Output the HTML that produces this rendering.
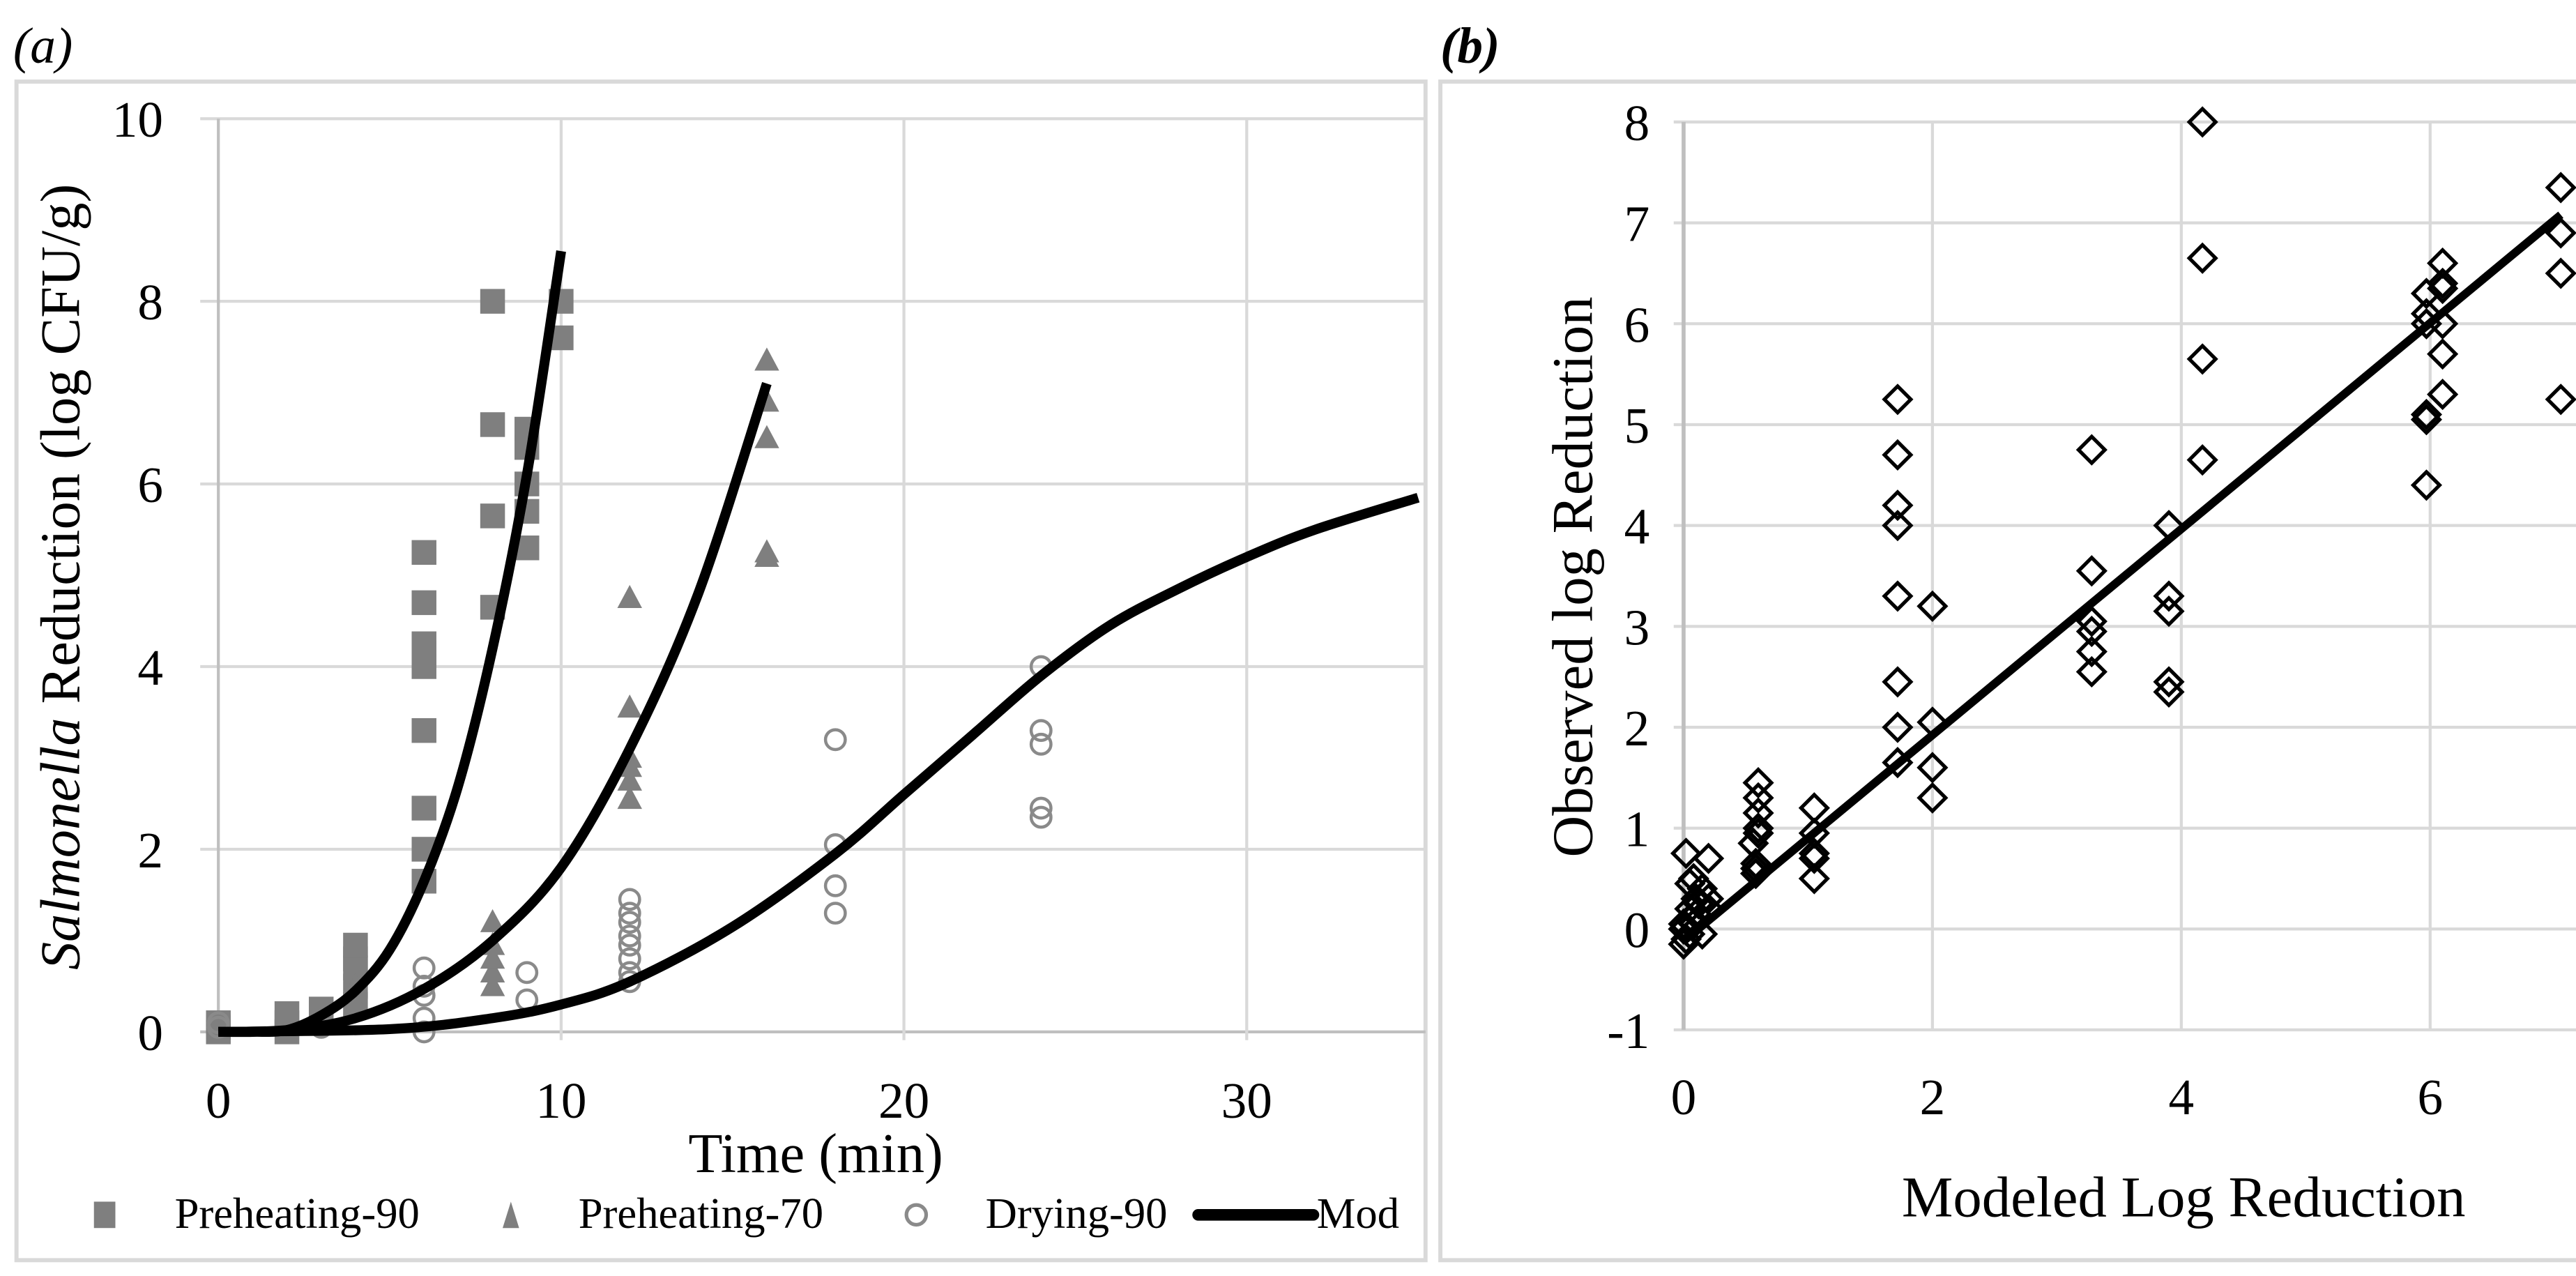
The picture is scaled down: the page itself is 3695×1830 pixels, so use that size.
<!DOCTYPE html>
<html><head><meta charset="utf-8"><style>
html,body{margin:0;padding:0;background:#fff;}
svg{display:block;font-family:"Liberation Serif","DejaVu Serif",serif;}
</style></head><body>
<svg id="fig" width="3695" height="1830" viewBox="0 0 1563.1 774.1" preserveAspectRatio="none" xmlns="http://www.w3.org/2000/svg">
<rect x="0" y="0" width="1563.1" height="774.1" fill="#fff"/>
<text x="8" y="38" font-size="31" font-style="italic">(a)</text>
<rect x="10" y="49.5" width="855" height="715" fill="none" stroke="#d9d9d9" stroke-width="2.5"/>
<text x="874" y="38" font-size="31" font-style="italic" font-weight="bold">(b)</text>
<rect x="874" y="49.5" width="700" height="715" fill="none" stroke="#d9d9d9" stroke-width="2.5"/>
<g id="pa"></g>
<g id="pb"></g>
</svg>
<script>
// ---------- Panel (a) data ----------
const p90T=[0,0,0,2,2,2,3,3,4,4,4,4,4,6,6,6,6,6,6,6,6,6,8,8,8,8,9,9,9,9,9,10,10];
const p90Y=[0,0.05,0.1,0,0.1,0.2,0.2,0.25,0.3,0.5,0.7,0.8,0.95,1.65,2.0,2.45,3.3,4.0,4.15,4.25,4.7,5.25,4.65,5.65,6.65,8.0,5.3,5.7,6.0,6.4,6.6,7.6,8.0];
const p70T=[0,0,4,4,8,8,8,8,8,12,12,12,12,12,12,16,16,16,16,16];
const p70Y=[0,0.05,0.3,0.5,0.5,0.65,0.8,0.95,1.2,2.55,2.75,2.9,3.0,3.55,4.75,5.2,5.25,6.5,6.9,7.35];
const d90T=[0,0,3,6,6,6,6,6,9,9,12,12,12,12,12,12,12,12,18,18,18,18,24,24,24,24,24];
const d90Y=[0.05,0.1,0.05,0,0.15,0.4,0.5,0.7,0.35,0.65,0.55,0.65,0.8,0.95,1.05,1.2,1.3,1.45,1.3,1.6,2.05,3.2,2.35,2.45,3.15,3.3,4.0];
const mod1T=[0,1,2,3,4,5,6,7,8,9,10];
const mod1Y=[0,0,0.02,0.18,0.45,0.9,1.65,2.7,4.2,6.1,8.55];
const mod2T=[0,2,4,6,8,10,12,14,16];
const mod2Y=[0,0.02,0.15,0.47,1.0,1.8,3.1,4.8,7.1];
const mod3T=[0,5,8,10,12,15,18,20,22,24,26,28,30,32,35];
const mod3Y=[0,0.03,0.15,0.3,0.55,1.15,1.95,2.6,3.25,3.9,4.45,4.85,5.2,5.5,5.85];
const aXTicks=[0,10,20,30];
const aYTicks=[0,2,4,6,8,10];
// ---------- Panel (b) data ----------
const bX=[0,0,0.02,0.05,0.05,0.1,0.05,0.08,0.02,0.15,0.2,0.2,0.15,0.1,0.2,0,0.05,0.12,0.08,
0.58,0.58,0.58,0.56,0.6,0.6,0.6,0.6,0.6,
1.05,1.05,1.05,1.05,1.05,
1.72,1.72,1.72,1.72,1.72,1.72,1.72,1.72,
2.0,2.0,2.0,2.0,
3.28,3.28,3.28,3.28,3.28,3.28,
3.9,3.9,3.9,3.9,3.9,
4.17,4.17,4.17,4.17,
5.97,5.97,5.97,5.97,5.97,5.97,
6.1,6.1,6.1,6.1,6.1,6.1,
7.05,7.05,7.05,7.05];
const bY=[0,0.05,-0.1,0.1,0.2,0.3,0.45,0.5,0.75,0.4,0.7,0.2,-0.05,0.15,0.3,-0.15,-0.05,0.25,0.05,
0.55,0.6,0.65,0.85,0.95,1.0,1.15,1.3,1.45,
0.5,0.7,0.75,0.95,1.2,
1.65,2.0,2.45,3.3,4.0,4.2,4.7,5.25,
1.3,1.6,2.05,3.2,
2.55,2.75,2.95,3.05,3.55,4.75,
2.35,2.45,3.15,3.3,4.0,
4.65,5.65,6.65,8.0,
4.4,5.05,5.1,6.0,6.1,6.3,
5.3,5.7,6.0,6.35,6.4,6.6,
5.25,6.5,6.9,7.35];
const fitX=[0,7.05];
const fitY=[-0.12,7.08];
const bXTicks=[0,2,4,6];
const bYTicks=[-1,0,1,2,3,4,5,6,7,8];

const NS="http://www.w3.org/2000/svg";
function mk(parent,tag,attrs){const e=document.createElementNS(NS,tag);for(const k in attrs)e.setAttribute(k,attrs[k]);parent.appendChild(e);return e;}

// ----- Panel a -----
const pa=document.getElementById('pa');
const ax=v=>132.5+v*20.8, ay=v=>626-v*55.4;
const AX0=132.5, AX1=865;
aYTicks.forEach(v=>{
  const g=mk(pa,'line',{x1:AX0-11,x2:AX1,y1:ay(v),y2:ay(v),stroke:v===0?'#bfbfbf':'#d9d9d9','stroke-width':1.8});
  
  
  const t=mk(pa,'text',{x:99,y:ay(v)+11,'font-size':31,'text-anchor':'end'});
  t.textContent=v;
  
  
});
aXTicks.forEach(v=>{
  const g=mk(pa,'line',{x1:ax(v),x2:ax(v),y1:ay(10),y2:ay(0)+5,stroke:v===0?'#bfbfbf':'#d9d9d9','stroke-width':1.8});
  
  
  const t=mk(pa,'text',{x:ax(v),y:678,'font-size':31,'text-anchor':'middle'});
  t.textContent=v;
  
  
});
{const t=mk(pa,'text',{x:495,y:711,'font-size':34,'text-anchor':'middle'});t.textContent='Time (min)';

}
{const t=mk(pa,'text',{transform:'translate(48,350) rotate(-90)','font-size':34,'text-anchor':'middle'});
t.innerHTML='<tspan font-style="italic">Salmonella</tspan> Reduction (log CFU/g)';

}
// points
p90T.forEach((t,i)=>{const r=mk(pa,'rect',{x:ax(t)-7.5,y:ay(p90Y[i])-7.5,width:15,height:15,fill:'#7f7f7f'});

});
p70T.forEach((t,i)=>{const x=ax(t),y=ay(p70Y[i]);const r=mk(pa,'polygon',{points:`${x},${y-8} ${x-7.5},${y+6} ${x+7.5},${y+6}`,fill:'#7f7f7f'});

});
d90T.forEach((t,i)=>{const r=mk(pa,'circle',{cx:ax(t),cy:ay(d90Y[i]),r:6,fill:'none',stroke:'#8a8a8a','stroke-width':1.9});

});
function curve(T,Y,name){
  const pts=T.map((t,i)=>[ax(t),ay(Y[i])]);
  let d='M'+pts[0][0]+','+pts[0][1];
  for(let i=0;i<pts.length-1;i++){
    const p0=pts[Math.max(0,i-1)],p1=pts[i],p2=pts[i+1],p3=pts[Math.min(pts.length-1,i+2)];
    const c1=[p1[0]+(p2[0]-p0[0])/6,p1[1]+(p2[1]-p0[1])/6],c2=[p2[0]-(p3[0]-p1[0])/6,p2[1]-(p3[1]-p1[1])/6];
    d+=` C${c1[0]},${c1[1]} ${c2[0]},${c2[1]} ${p2[0]},${p2[1]}`;
  }
  const p=mk(pa,'path',{d:d,fill:'none',stroke:'#000','stroke-width':6});
  
  
}
curve(mod1T,mod1Y,'model-curve-preheating-90');
curve(mod2T,mod2Y,'model-curve-preheating-70');
curve(mod3T,mod3Y,'model-curve-drying-90');
// legend
{const L=mk(pa,'g',{});
mk(L,'rect',{x:57,y:729,width:13,height:16,fill:'#7f7f7f'});
let t=mk(L,'text',{x:106,y:745,'font-size':26.5});t.textContent='Preheating-90';
mk(L,'polygon',{points:'310,729 305,745 315,745',fill:'#7f7f7f'});
t=mk(L,'text',{x:351,y:745,'font-size':26.5});t.textContent='Preheating-70';
mk(L,'circle',{cx:556,cy:737,r:6,fill:'none',stroke:'#8a8a8a','stroke-width':2.2});
t=mk(L,'text',{x:598,y:745,'font-size':26.5});t.textContent='Drying-90';
mk(L,'line',{x1:727,x2:797,y1:737,y2:737,stroke:'#000','stroke-width':7,'stroke-linecap':'round'});
t=mk(L,'text',{x:799,y:745,'font-size':26.5});t.textContent='Mod';}

// ----- Panel b -----
const pb=document.getElementById('pb');
const bx=v=>1021.6+v*75.5, by=v=>74-(v-8)*61.2;
const BX1=1563.1;
bYTicks.forEach(v=>{
  const g=mk(pb,'line',{x1:bx(0)-6,x2:BX1,y1:by(v),y2:by(v),stroke:'#d9d9d9','stroke-width':1.8});
  
  
  const t=mk(pb,'text',{x:1001,y:by(v)+11,'font-size':31,'text-anchor':'end'});
  t.textContent=v;
  
  
});
bXTicks.forEach(v=>{
  const g=mk(pb,'line',{x1:bx(v),x2:bx(v),y1:by(8),y2:by(-1),stroke:v===0?'#bfbfbf':'#d9d9d9','stroke-width':v===0?2.4:1.8});
  
  
  const t=mk(pb,'text',{x:bx(v),y:676,'font-size':31,'text-anchor':'middle'});
  t.textContent=v;
  
  
});
{const t=mk(pb,'text',{x:1325,y:738,'font-size':35,'text-anchor':'middle'});t.textContent='Modeled Log Reduction';

}
{const t=mk(pb,'text',{transform:'translate(966,350) rotate(-90)','font-size':35,'text-anchor':'middle'});t.textContent='Observed log Reduction';

}
bX.forEach((v,i)=>{const x=bx(v),y=by(bY[i]);
const r=mk(pb,'polygon',{points:`${x},${y-8} ${x+8},${y} ${x},${y+8} ${x-8},${y}`,fill:'none',stroke:'#000','stroke-width':2.2});

});
{const l=mk(pb,'line',{x1:bx(fitX[0]),y1:by(fitY[0]),x2:bx(fitX[1]),y2:by(fitY[1]),stroke:'#000','stroke-width':5});

}
</script>
</body></html>
